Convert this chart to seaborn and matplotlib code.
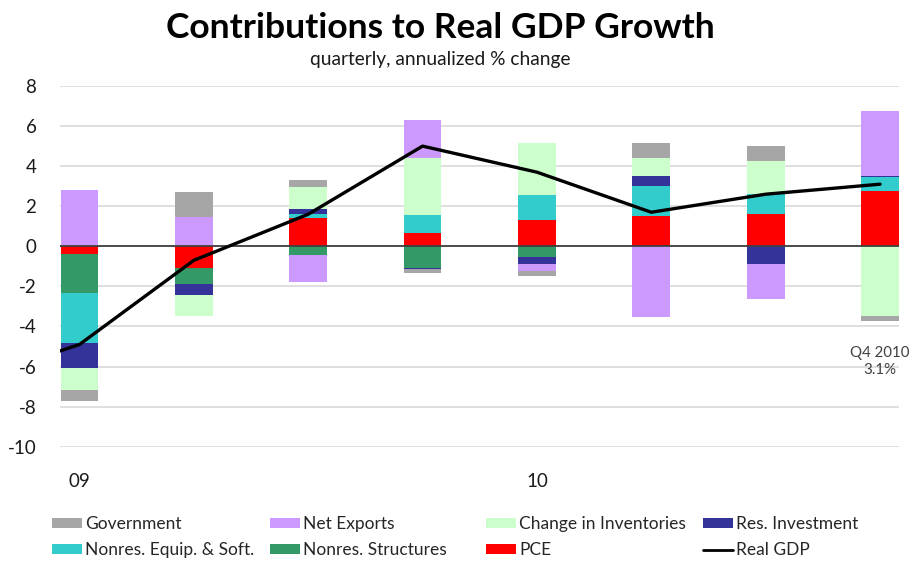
import numpy as np
import pandas as pd
import matplotlib
matplotlib.use("Agg")
import matplotlib.pyplot as plt
from matplotlib.patches import Patch
from matplotlib.lines import Line2D
import seaborn as sns

# ---------------- data ----------------
quarters = ["Q1 2009", "Q2 2009", "Q3 2009", "Q4 2009",
            "Q1 2010", "Q2 2010", "Q3 2010", "Q4 2010"]
tick_labels = ["09", "10"]
tick_quarters = ["Q1 2009", "Q1 2010"]

pce          = [-0.40, -1.10,  1.40,  0.66,  1.29,  1.50,  1.59,  2.74]
nonres_struc = [-1.95, -0.80, -0.41, -1.06, -0.53,  0.00,  0.00,  0.00]
nonres_equip = [-2.50,  0.00,  0.20,  0.88,  1.27,  1.52,  1.02,  0.70]
res_inv      = [-1.20, -0.53,  0.28, -0.07, -0.33,  0.50, -0.86,  0.07]
inventories  = [-1.10, -1.04,  1.07,  2.86,  2.61,  0.88,  1.65, -3.47]
net_exports  = [ 2.80,  1.45, -1.36,  1.88, -0.36, -3.54, -1.75,  3.26]
government   = [-0.58,  1.24,  0.36, -0.20, -0.26,  0.78,  0.74, -0.28]

# real GDP line (first value = Q4 2008, only the clipped lead-in is visible)
gdp_quarters = ["Q4 2008"] + quarters
real_gdp     = [-6.8, -4.9, -0.7, 1.6, 5.0, 3.7, 1.7, 2.6, 3.1]

series_names = ["PCE", "Nonres. Structures", "Nonres. Equip. & Soft.",
                "Res. Investment", "Change in Inventories", "Net Exports",
                "Government"]
series_values = [pce, nonres_struc, nonres_equip, res_inv,
                 inventories, net_exports, government]
series_colors = ["#FF0000", "#339966", "#33CCCC", "#333399",
                 "#CCFFCC", "#CC99FF", "#A6A6A6"]

annot_label = "Q4 2010\n3.1%"

# ---------------- style ----------------
sns.set_theme(style="white")
plt.rcParams["font.family"] = ["Lato", "DejaVu Sans"]
plt.rcParams["axes.unicode_minus"] = False

fig = plt.figure(figsize=(9.14, 5.62), dpi=100)
ax = fig.add_axes([60 / 914, 1 - 446.7 / 562, (899 - 60) / 914, (446.7 - 86) / 562])

pos = np.arange(len(quarters))
pos_cum = np.zeros(len(quarters))
neg_cum = np.zeros(len(quarters))
for name, vals, col in zip(series_names, series_values, series_colors):
    v = np.asarray(vals, dtype=float)
    bottom = np.where(v >= 0, pos_cum, neg_cum)
    df = pd.DataFrame({"pos": pos, "val": v})
    sns.barplot(data=df, x="pos", y="val", native_scale=True, width=0.33,
                color=col, saturation=1, errorbar=None, bottom=bottom,
                linewidth=0, ax=ax, zorder=3)
    pos_cum = pos_cum + np.where(v > 0, v, 0)
    neg_cum = neg_cum + np.where(v < 0, v, 0)

# grid & zero line
ax.set_ylim(-10, 8)
ax.set_yticks(np.arange(-10, 9, 2))
ax.yaxis.grid(True, color="#D9D9D9", linewidth=1.2, zorder=0)
ax.set_axisbelow(True)
ax.axhline(0, color="#404040", linewidth=1.3, zorder=4)

gdp_pos = np.arange(len(gdp_quarters)) - 1
sns.lineplot(x=gdp_pos, y=real_gdp, color="black", linewidth=2.4, ax=ax,
             zorder=5, legend=False)

ax.set_xlim(-0.17, 7.166)
ax.set_xticks([quarters.index(q) for q in tick_quarters])
ax.set_xticklabels(tick_labels)
ax.set_xlabel("")
ax.set_ylabel("")
for s in ax.spines.values():
    s.set_visible(False)
ax.tick_params(axis="x", length=0, pad=19, labelsize=13.5, colors="#1a1a1a")
ax.tick_params(axis="y", length=0, pad=17, labelsize=13.5, colors="#1a1a1a")

ax.text(7, -5.75, annot_label, ha="center", va="center", fontsize=10.8,
        color="#404040", linespacing=1.25, zorder=6)

# titles
fig.text(0.482, 1 - 28 / 562, "Contributions to Real GDP Growth", ha="center",
         va="center", fontsize=25.5, fontweight="bold", color="black")
fig.text(0.482, 1 - 60 / 562, "quarterly, annualized % change", ha="center",
         va="center", fontsize=13.8, color="#1a1a1a")

# legend (4 columns, placed individually)
handles = {n: Patch(facecolor=c, edgecolor="none")
           for n, c in zip(series_names, series_colors)}
handles["Real GDP"] = Line2D([0], [0], color="black", linewidth=2)
columns = [["Government", "Nonres. Equip. & Soft."],
           ["Net Exports", "Nonres. Structures"],
           ["Change in Inventories", "PCE"],
           ["Res. Investment", "Real GDP"]]
col_x = [52, 270, 486, 703]
for names, x in zip(columns, col_x):
    leg = fig.legend([handles[n] for n in names], names,
                     loc="upper left", bbox_to_anchor=(x / 914, 1 - 516 / 562),
                     frameon=False, fontsize=12.5, handlelength=1.7,
                     handleheight=0.5, handletextpad=0.2, labelspacing=0.6,
                     borderaxespad=0, borderpad=0)
    for t in leg.get_texts():
        t.set_color("#262626")

fig.savefig("out.png", dpi=100)
